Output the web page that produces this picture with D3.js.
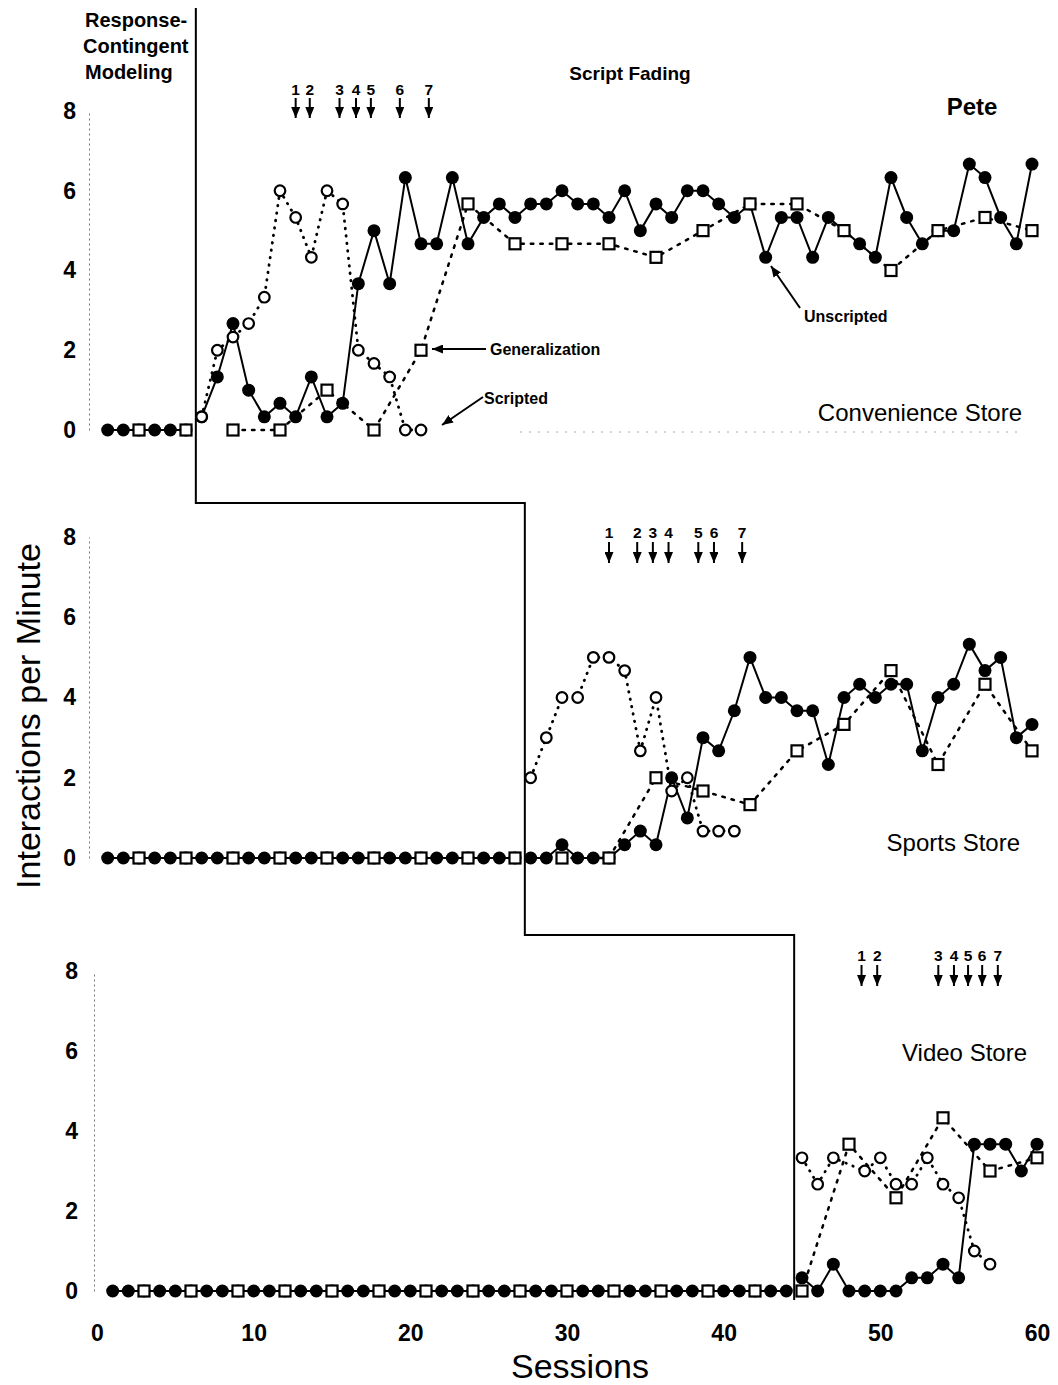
<!DOCTYPE html>
<html>
<head>
<meta charset="utf-8">
<script src="https://cdn.jsdelivr.net/npm/d3@7"></script>
<style>
  body { margin: 0; background: #fff; }
  text { font-family: "Liberation Sans", Arial, Helvetica, sans-serif; fill: #000; }
</style>
</head>
<body>
<div id="container"></div>
<script>
/* DATA */
const xTicks = [0, 10, 20, 30, 40, 50, 60];
const yTicks = [0, 2, 4, 6, 8];
const arrowLabels = ["1", "2", "3", "4", "5", "6", "7"];

// Convenience Store
const convBaseline = [0, 0, 0, 0, 0, 0]; // sessions 1-6
const convUnscripted = [0.33, 1.33, 2.67, 1, 0.33, 0.67, 0.33, 1.33, 0.33, 0.67, 3.67, 5, 3.67, 6.33, 4.67,
  4.67, 6.33, 4.67, 5.33, 5.67, 5.33, 5.67, 5.67, 6, 5.67, 5.67, 5.33, 6, 5, 5.67, 5.33, 6, 6, 5.67, 5.33,
  5.67, 4.33, 5.33, 5.33, 4.33, 5.33, 5, 4.67, 4.33, 6.33, 5.33, 4.67, 5, 5, 6.67, 6.33, 5.33, 4.67, 6.67]; // sessions 7-60
const convScripted = [0.33, 2, 2.33, 2.67, 3.33, 6, 5.33, 4.33, 6, 5.67, 2, 1.67, 1.33, 0, 0]; // sessions 7-21
const convGenBaseline = [[3, 0], [6, 0]];
const convGen = [[9, 0], [12, 0], [15, 1], [18, 0], [21, 2], [24, 5.67], [27, 4.67], [30, 4.67], [33, 4.67],
  [36, 4.33], [39, 5], [42, 5.67], [45, 5.67], [48, 5], [51, 4], [54, 5], [57, 5.33], [60, 5]];
const convArrows = [13, 13.9, 15.8, 16.85, 17.8, 19.65, 21.5];

// Sports Store
const sportBaseline = [0, 0, 0, 0, 0, 0, 0, 0, 0, 0, 0, 0, 0, 0, 0, 0, 0, 0, 0, 0, 0, 0, 0, 0, 0, 0, 0]; // sessions 1-27
const sportUnscripted = [0, 0, 0.33, 0, 0, 0, 0.33, 0.67, 0.33, 2, 1, 3, 2.67, 3.67, 5, 4, 4, 3.67, 3.67,
  2.33, 4, 4.33, 4, 4.33, 4.33, 2.67, 4, 4.33, 5.33, 4.67, 5, 3, 3.33]; // sessions 28-60
const sportScripted = [2, 3, 4, 4, 5, 5, 4.67, 2.67, 4, 1.67, 2, 0.67, 0.67, 0.67]; // sessions 28-41
const sportGenBaseline = [[3, 0], [6, 0], [9, 0], [12, 0], [15, 0], [18, 0], [21, 0], [24, 0], [27, 0]];
const sportGen = [[30, 0], [33, 0], [36, 2], [39, 1.67], [42, 1.33], [45, 2.67], [48, 3.33], [51, 4.67],
  [54, 2.33], [57, 4.33], [60, 2.67]];
const sportArrows = [33, 34.8, 35.8, 36.8, 38.7, 39.7, 41.5];

// Video Store
const videoBaseline = [0, 0, 0, 0, 0, 0, 0, 0, 0, 0, 0, 0, 0, 0, 0, 0, 0, 0, 0, 0, 0, 0,
  0, 0, 0, 0, 0, 0, 0, 0, 0, 0, 0, 0, 0, 0, 0, 0, 0, 0, 0, 0, 0, 0]; // sessions 1-44
const videoUnscripted = [0.33, 0, 0.67, 0, 0, 0, 0, 0.33, 0.33, 0.67, 0.33, 3.67, 3.67, 3.67, 3, 3.67]; // sessions 45-60
const videoScripted = [[45, 3.33], [46, 2.67], [47, 3.33], [49, 3], [50, 3.33], [51, 2.67], [52, 2.67],
  [53, 3.33], [54, 2.67], [55, 2.33], [56, 1], [57, 0.67]];
const videoGenBaseline = [[3, 0], [6, 0], [9, 0], [12, 0], [15, 0], [18, 0], [21, 0], [24, 0], [27, 0],
  [30, 0], [33, 0], [36, 0], [39, 0], [42, 0]];
const videoGen = [[45, 0], [48, 3.67], [51, 2.33], [54, 4.33], [57, 3], [60, 3.33]];
const videoArrows = [48.8, 49.8, 53.7, 54.7, 55.6, 56.5, 57.5];

const phaseChanges = [6.5, 27.5, 44.5];

/* HELPERS */
const seq = (start, vals) => vals.map((v, i) => ({ s: start + i, v }));
const pairs = arr => arr.map(([s, v]) => ({ s, v }));

/* LAYOUT */
const width = 1058, height = 1385;

const panels = [
  { name: "Convenience Store", top: 111, bottom: 430, dx: -5, pad: 13, nameX: 1022, nameY: 421, numY: 95, arrTop: 98, arrBot: 118,
    baseline: seq(1, convBaseline), unscripted: seq(7, convUnscripted), scripted: seq(7, convScripted),
    genBase: pairs(convGenBaseline), gen: pairs(convGen), arrows: convArrows },
  { name: "Sports Store", top: 537, bottom: 858, dx: -5, pad: 13, nameX: 1020, nameY: 851, numY: 538, arrTop: 542, arrBot: 563,
    baseline: seq(1, sportBaseline), unscripted: seq(28, sportUnscripted), scripted: seq(28, sportScripted),
    genBase: pairs(sportGenBaseline), gen: pairs(sportGen), arrows: sportArrows },
  { name: "Video Store", top: 971, bottom: 1291, dx: 0, pad: 16, nameX: 1027, nameY: 1061, numY: 961, arrTop: 965, arrBot: 986,
    baseline: seq(1, videoBaseline), unscripted: seq(45, videoUnscripted), scripted: pairs(videoScripted),
    genBase: pairs(videoGenBaseline), gen: pairs(videoGen), arrows: videoArrows }
];

/* SCALES */
const xScale = d3.scaleLinear().domain([0, 60]).range([97, 1037]);

/* SVG */
const svg = d3.select("#container")
  .append("svg")
  .attr("width", width)
  .attr("height", height);

const defs = svg.append("defs");
defs.append("marker")
  .attr("id", "head")
  .attr("viewBox", "0 0 11 9")
  .attr("markerUnits", "userSpaceOnUse")
  .attr("markerWidth", 11)
  .attr("markerHeight", 9)
  .attr("refX", 11)
  .attr("refY", 4.5)
  .attr("orient", "auto")
  .append("path")
  .attr("d", "M0,0 L11,4.5 L0,9 Z")
  .attr("fill", "#000");

panels.forEach(p => {
  const yScale = d3.scaleLinear().domain([0, 8]).range([p.bottom, p.top]);
  const g = svg.append("g").attr("transform", `translate(${p.dx},0)`);

  // y axis
  const yAxis = d3.axisLeft(yScale).tickValues(yTicks).tickSize(0).tickPadding(p.pad);
  const ay = svg.append("g")
    .attr("transform", `translate(${xScale(0) + p.dx - 3},0)`)
    .call(yAxis);
  ay.attr("font-family", null).attr("font-size", null);
  ay.select(".domain")
    .attr("stroke", "#777")
    .attr("stroke-width", 1)
    .attr("stroke-dasharray", "2,3");
  ay.selectAll("text")
    .style("font-size", "23px")
    .style("font-weight", "bold");

  const line = d3.line().x(d => xScale(d.s)).y(d => yScale(d.v));

  // lines
  g.append("path").datum(p.baseline)
    .attr("d", line).attr("fill", "none").attr("stroke", "#000").attr("stroke-width", 2);
  g.append("path").datum(p.unscripted)
    .attr("d", line).attr("fill", "none").attr("stroke", "#000").attr("stroke-width", 2);
  g.append("path").datum(p.scripted)
    .attr("d", line).attr("fill", "none").attr("stroke", "#000").attr("stroke-width", 2.8)
    .attr("stroke-linecap", "round").attr("stroke-dasharray", "0.5,7");
  g.append("path").datum(p.gen)
    .attr("d", line).attr("fill", "none").attr("stroke", "#000").attr("stroke-width", 2.5)
    .attr("stroke-linecap", "round").attr("stroke-dasharray", "2.5,7");

  // markers
  g.selectAll(".filled")
    .data(p.baseline.concat(p.unscripted))
    .join("circle")
    .attr("class", "filled")
    .attr("cx", d => xScale(d.s))
    .attr("cy", d => yScale(d.v))
    .attr("r", 6.5)
    .attr("fill", "#000");

  g.selectAll(".open")
    .data(p.scripted)
    .join("circle")
    .attr("class", "open")
    .attr("cx", d => xScale(d.s))
    .attr("cy", d => yScale(d.v))
    .attr("r", 5.3)
    .attr("fill", "#fff")
    .attr("stroke", "#000")
    .attr("stroke-width", 2.2);

  g.selectAll(".sq")
    .data(p.genBase.concat(p.gen))
    .join("rect")
    .attr("class", "sq")
    .attr("x", d => xScale(d.s) - 5.5)
    .attr("y", d => yScale(d.v) - 5.5)
    .attr("width", 11)
    .attr("height", 11)
    .attr("fill", "#fff")
    .attr("stroke", "#000")
    .attr("stroke-width", 2.2);

  // numbered arrows (script fading steps)
  p.arrows.forEach((s, i) => {
    g.append("text")
      .attr("x", xScale(s))
      .attr("y", p.numY)
      .attr("text-anchor", "middle")
      .style("font-size", "15.5px")
      .style("font-weight", "bold")
      .text(arrowLabels[i]);
    g.append("line")
      .attr("x1", xScale(s)).attr("x2", xScale(s))
      .attr("y1", p.arrTop).attr("y2", p.arrBot)
      .attr("stroke", "#000").attr("stroke-width", 2)
      .attr("marker-end", "url(#head)");
  });

  // setting name
  svg.append("text")
    .attr("x", p.nameX)
    .attr("y", p.nameY)
    .attr("text-anchor", "end")
    .style("font-size", "24px")
    .text(p.name);
});

// faint zero line in top panel
svg.append("line")
  .attr("x1", 520).attr("x2", 1020).attr("y1", 432).attr("y2", 432)
  .attr("stroke", "#aaa").attr("stroke-width", 1).attr("stroke-dasharray", "2,7");

// phase change line (stepped)
const px = (s, pi) => xScale(s) + panels[pi].dx;
const stepPath = d3.path();
stepPath.moveTo(px(phaseChanges[0], 0) + 2, 8);
stepPath.lineTo(px(phaseChanges[0], 0) + 2, 503);
stepPath.lineTo(px(phaseChanges[1], 1) + 2, 503);
stepPath.lineTo(px(phaseChanges[1], 1) + 2, 935);
stepPath.lineTo(px(phaseChanges[2], 2), 935);
stepPath.lineTo(px(phaseChanges[2], 2), 1300);
svg.append("path")
  .attr("d", stepPath.toString())
  .attr("fill", "none")
  .attr("stroke", "#000")
  .attr("stroke-width", 2);

// x axis
const xAxis = d3.axisBottom(xScale).tickValues(xTicks).tickSize(0).tickPadding(10);
const ax = svg.append("g")
  .attr("transform", "translate(0,1315)")
  .call(xAxis);
ax.attr("font-family", null).attr("font-size", null);
ax.select(".domain").remove();
ax.selectAll("text").style("font-size", "23px").style("font-weight", "bold");

// axis titles
svg.append("text")
  .attr("x", 580).attr("y", 1378)
  .attr("text-anchor", "middle")
  .style("font-size", "34px")
  .text("Sessions");

svg.append("text")
  .attr("transform", "translate(40,716) rotate(-90)")
  .attr("text-anchor", "middle")
  .style("font-size", "34px")
  .text("Interactions per Minute");

// phase labels
const bold = sel => sel.style("font-weight", "bold");
[["Response-", 85, 27], ["Contingent", 83, 53], ["Modeling", 85, 79]].forEach(([t, x, y]) => {
  svg.append("text").attr("x", x).attr("y", y).style("font-size", "20px").call(bold).text(t);
});
svg.append("text").attr("x", 630).attr("y", 80).attr("text-anchor", "middle")
  .style("font-size", "19px").call(bold).text("Script Fading");
svg.append("text").attr("x", 972).attr("y", 115).attr("text-anchor", "middle")
  .style("font-size", "24px").call(bold).text("Pete");

// callouts
const callouts = [
  { text: "Generalization", tx: 490, ty: 355, x1: 486, y1: 349, x2: 432, y2: 349 },
  { text: "Scripted", tx: 484, ty: 404, x1: 483, y1: 397, x2: 442, y2: 425 },
  { text: "Unscripted", tx: 804, ty: 322, x1: 800, y1: 308, x2: 771, y2: 266 }
];
callouts.forEach(c => {
  svg.append("text").attr("x", c.tx).attr("y", c.ty)
    .style("font-size", "16px").call(bold).text(c.text);
  svg.append("line")
    .attr("x1", c.x1).attr("y1", c.y1).attr("x2", c.x2).attr("y2", c.y2)
    .attr("stroke", "#000").attr("stroke-width", 2)
    .attr("marker-end", "url(#head)");
});
</script>
</body>
</html>
